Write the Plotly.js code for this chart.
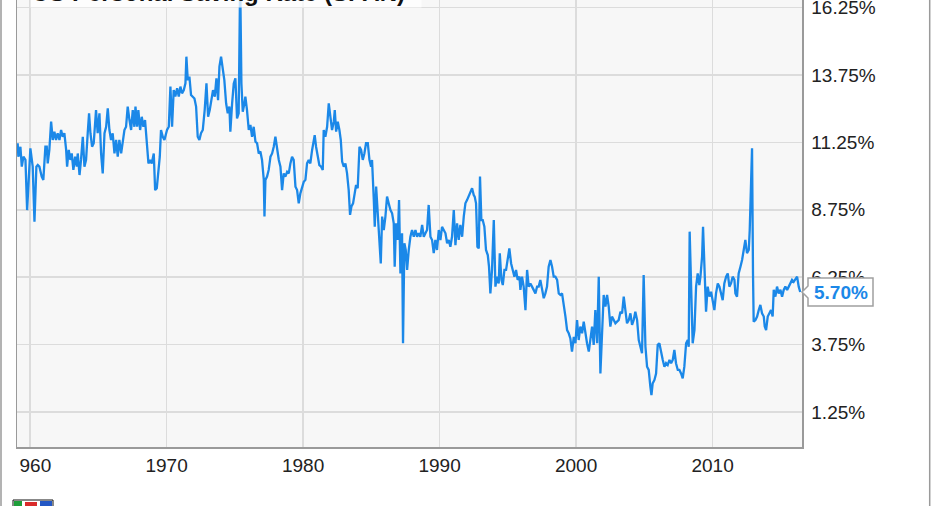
<!DOCTYPE html>
<html><head><meta charset="utf-8">
<script src="https://cdn.plot.ly/plotly-3.0.1.min.js"></script>
<style>html,body{margin:0;padding:0;background:#fff;overflow:hidden}#chart{width:931px;height:506px}</style>
</head><body><div id="chart"></div>
<script>
const chartTitle = 'US Personal Saving Rate (SPAN)';
const decadeTicks = [1960, 1970, 1980, 1990, 2000, 2010];
const decadeLabels = ['960', '1970', '1980', '1990', '2000', '2010'];
const rateTicks = [1.25, 3.75, 6.25, 8.75, 11.25, 13.75, 16.25];

// [year, personal saving rate %]
const s1960s = [[1959.09,11.22],[1959.14,10.72],[1959.29,11.09],[1959.39,10.35],[1959.51,10.72],[1959.66,10.60],[1959.78,8.74],[1959.88,9.98],[1960.02,11.03],[1960.19,10.35],[1960.32,8.31],[1960.46,10.35],[1960.56,10.41],[1960.68,10.35],[1960.85,9.98],[1960.97,9.86],[1961.12,11.09],[1961.22,11.09],[1961.29,10.47],[1961.41,10.97],[1961.54,12.02],[1961.66,11.34],[1961.78,11.65],[1961.90,11.34],[1962.02,11.59],[1962.15,11.34],[1962.27,11.71],[1962.39,11.46],[1962.51,11.59],[1962.64,10.97],[1962.71,10.35],[1962.83,10.97],[1962.95,10.60],[1963.05,10.84],[1963.17,10.23],[1963.30,10.72],[1963.42,10.35],[1963.49,10.84],[1963.62,10.04],[1963.73,10.60],[1963.86,11.46],[1963.98,10.35],[1964.10,10.60],[1964.22,11.59],[1964.32,12.33],[1964.42,11.59],[1964.54,11.09],[1964.66,11.22],[1964.83,12.45],[1964.95,11.59],[1965.08,12.33],[1965.20,10.84],[1965.32,10.10],[1965.45,11.59],[1965.57,11.83],[1965.69,12.51],[1965.81,11.71],[1965.93,11.34],[1966.05,11.59],[1966.18,10.84],[1966.30,11.34],[1966.42,10.72],[1966.54,11.34],[1966.67,10.84],[1966.79,11.22],[1966.91,11.71],[1967.03,11.83],[1967.15,12.58],[1967.28,12.08],[1967.40,11.71],[1967.52,12.45],[1967.64,11.83],[1967.72,12.58],[1967.84,11.83],[1967.93,12.45],[1968.06,11.71],[1968.18,12.20],[1968.30,11.83],[1968.42,12.08],[1968.55,11.22],[1968.67,10.47],[1968.79,10.60],[1968.91,10.47],[1969.06,10.84],[1969.16,9.48],[1969.28,9.55],[1969.40,10.10],[1969.50,10.72],[1969.59,11.71],[1969.72,11.46],[1969.84,11.34],[1969.96,11.59]];
const s1970s = [[1970.03,11.71],[1970.16,11.83],[1970.28,13.32],[1970.40,11.83],[1970.52,13.19],[1970.64,12.95],[1970.77,13.26],[1970.89,12.95],[1971.01,13.32],[1971.13,13.07],[1971.26,13.19],[1971.38,13.44],[1971.45,14.43],[1971.55,13.56],[1971.67,13.69],[1971.79,13.01],[1971.92,12.95],[1972.04,12.88],[1972.16,12.58],[1972.28,11.46],[1972.40,11.34],[1972.52,11.59],[1972.65,11.71],[1972.79,12.45],[1972.92,13.44],[1973.04,12.20],[1973.16,12.45],[1973.28,12.82],[1973.40,13.19],[1973.53,12.95],[1973.65,13.63],[1973.77,12.82],[1973.87,14.06],[1973.99,14.43],[1974.11,14.06],[1974.23,13.56],[1974.36,12.70],[1974.48,12.33],[1974.60,12.58],[1974.67,11.65],[1974.80,12.70],[1974.92,13.44],[1975.04,13.63],[1975.16,12.14],[1975.28,12.33],[1975.39,17.30],[1975.48,13.44],[1975.58,12.39],[1975.70,12.70],[1975.77,12.95],[1975.89,12.45],[1976.02,11.71],[1976.14,11.90],[1976.26,11.46],[1976.38,11.83],[1976.51,11.28],[1976.63,11.22],[1976.75,10.84],[1976.87,10.91],[1976.99,10.60],[1977.12,9.86],[1977.17,8.50],[1977.24,9.86],[1977.36,9.98],[1977.48,10.23],[1977.61,10.72],[1977.73,10.84],[1977.85,11.09],[1977.97,11.46],[1978.09,10.97],[1978.22,10.60],[1978.34,10.35],[1978.46,9.48],[1978.58,10.10],[1978.70,9.98],[1978.83,10.16],[1978.95,10.10],[1979.07,10.47],[1979.19,10.72],[1979.31,10.60],[1979.44,9.61],[1979.56,9.48],[1979.68,8.99],[1979.80,9.36],[1979.92,9.61]];
const s1980s = [[1980.05,9.79],[1980.17,9.86],[1980.29,10.47],[1980.41,10.60],[1980.53,10.47],[1980.66,10.97],[1980.78,11.46],[1980.85,11.52],[1980.95,11.09],[1981.07,10.72],[1981.19,10.41],[1981.32,10.35],[1981.44,10.23],[1981.51,11.71],[1981.63,11.46],[1981.76,11.83],[1981.88,12.70],[1982.00,12.20],[1982.12,11.71],[1982.25,12.02],[1982.32,12.45],[1982.42,11.65],[1982.54,12.02],[1982.66,11.71],[1982.76,11.34],[1982.86,10.54],[1982.98,10.35],[1983.10,10.47],[1983.22,10.10],[1983.34,9.48],[1983.44,8.56],[1983.54,8.87],[1983.66,8.99],[1983.78,9.36],[1983.88,9.67],[1984.00,9.55],[1984.13,11.09],[1984.25,10.97],[1984.37,10.60],[1984.49,10.84],[1984.61,11.22],[1984.74,11.22],[1984.86,10.60],[1984.98,10.35],[1985.05,10.60],[1985.18,9.11],[1985.25,8.12],[1985.35,9.61],[1985.47,8.74],[1985.59,7.88],[1985.69,6.76],[1985.79,8.50],[1985.91,8.00],[1986.03,8.50],[1986.15,9.24],[1986.27,8.99],[1986.40,8.74],[1986.52,8.62],[1986.64,8.25],[1986.71,6.64],[1986.81,8.25],[1986.93,7.63],[1987.03,9.11],[1987.13,6.39],[1987.25,7.88],[1987.32,3.80],[1987.42,7.51],[1987.52,7.26],[1987.62,6.52],[1987.74,7.26],[1987.86,7.75],[1987.98,8.00],[1988.11,7.75],[1988.23,8.00],[1988.35,7.75],[1988.47,7.88],[1988.59,7.75],[1988.72,8.19],[1988.84,7.75],[1988.96,7.88],[1989.08,8.00],[1989.20,8.93],[1989.33,7.75],[1989.45,7.63],[1989.57,7.14],[1989.69,7.63],[1989.81,7.26],[1989.94,8.00]];
const s1990s = [[1990.06,7.63],[1990.18,8.12],[1990.30,8.00],[1990.43,7.88],[1990.55,7.51],[1990.67,7.63],[1990.79,7.38],[1990.91,7.75],[1991.04,8.74],[1991.16,7.44],[1991.28,8.25],[1991.40,7.63],[1991.52,8.19],[1991.65,7.75],[1991.77,8.50],[1991.89,8.99],[1992.01,9.11],[1992.13,9.24],[1992.26,9.42],[1992.38,9.55],[1992.50,9.30],[1992.57,9.24],[1992.67,8.99],[1992.77,7.38],[1992.87,7.32],[1992.96,9.98],[1993.06,8.37],[1993.16,8.37],[1993.28,8.12],[1993.40,7.26],[1993.53,7.07],[1993.62,6.64],[1993.72,5.65],[1993.84,6.52],[1993.97,8.37],[1994.09,5.90],[1994.21,6.27],[1994.33,6.02],[1994.41,7.14],[1994.53,6.15],[1994.63,5.96],[1994.75,6.52],[1994.87,6.52],[1994.99,6.89],[1995.11,7.32],[1995.24,6.76],[1995.36,6.52],[1995.48,6.27],[1995.60,6.52],[1995.72,6.15],[1995.85,6.27],[1995.92,5.78],[1996.04,6.27],[1996.16,5.90],[1996.29,5.03],[1996.41,6.52],[1996.53,5.90],[1996.65,6.02],[1996.77,5.90],[1996.90,5.78],[1997.02,5.65],[1997.14,5.90],[1997.26,5.90],[1997.38,6.15],[1997.51,5.78],[1997.63,5.47],[1997.75,5.65],[1997.87,5.90],[1997.99,6.64],[1998.12,6.89],[1998.24,6.64],[1998.36,6.27],[1998.48,6.27],[1998.61,6.15],[1998.73,5.65],[1998.85,5.59],[1998.97,5.65],[1999.09,5.28],[1999.22,4.79],[1999.34,4.29],[1999.46,4.17],[1999.58,3.98],[1999.70,3.49],[1999.83,4.04],[1999.95,3.80]];
const s2000s = [[2000.07,4.66],[2000.19,3.92],[2000.31,4.42],[2000.44,4.17],[2000.56,4.60],[2000.68,4.17],[2000.80,3.80],[2000.93,3.49],[2001.05,4.04],[2001.17,4.42],[2001.29,3.74],[2001.41,5.03],[2001.54,3.80],[2001.66,6.27],[2001.78,2.68],[2001.90,4.42],[2002.02,5.59],[2002.15,5.16],[2002.27,5.59],[2002.39,5.16],[2002.51,4.42],[2002.63,4.79],[2002.76,4.66],[2002.88,4.54],[2003.00,4.60],[2003.12,4.66],[2003.25,4.97],[2003.37,4.91],[2003.49,5.53],[2003.61,4.91],[2003.73,4.54],[2003.86,4.66],[2003.98,4.91],[2004.10,4.48],[2004.22,4.66],[2004.34,4.97],[2004.47,4.66],[2004.59,3.92],[2004.71,3.67],[2004.83,3.43],[2004.95,6.33],[2005.08,3.67],[2005.20,2.93],[2005.32,2.81],[2005.44,2.19],[2005.52,1.88],[2005.61,2.31],[2005.74,2.44],[2005.86,2.68],[2005.98,3.74],[2006.10,3.80],[2006.22,3.43],[2006.35,3.18],[2006.47,2.93],[2006.59,3.06],[2006.71,2.99],[2006.84,3.18],[2006.96,3.06],[2007.08,3.18],[2007.20,3.55],[2007.32,3.06],[2007.45,2.81],[2007.57,2.81],[2007.69,2.68],[2007.81,2.50],[2007.93,2.93],[2008.06,3.80],[2008.18,3.92],[2008.25,3.67],[2008.32,7.94],[2008.45,5.16],[2008.54,3.80],[2008.67,4.29],[2008.79,5.90],[2008.91,6.39],[2009.03,5.96],[2009.11,6.27],[2009.23,7.01],[2009.30,8.12],[2009.40,6.39],[2009.52,4.97],[2009.64,5.90],[2009.77,5.53],[2009.89,5.71]];
const s2010s = [[2010.01,5.40],[2010.13,5.03],[2010.25,5.65],[2010.38,6.02],[2010.50,5.90],[2010.62,5.65],[2010.74,5.40],[2010.86,6.02],[2010.99,6.27],[2011.11,6.39],[2011.23,5.90],[2011.35,6.02],[2011.47,6.27],[2011.60,6.15],[2011.67,5.65],[2011.79,5.53],[2011.91,6.39],[2012.04,6.64],[2012.16,6.89],[2012.28,7.26],[2012.40,7.63],[2012.52,7.14],[2012.65,7.26],[2012.72,8.00],[2012.82,9.48],[2012.89,11.03],[2012.96,6.39],[2013.01,4.60],[2013.14,4.66],[2013.26,4.79],[2013.38,5.03],[2013.50,5.22],[2013.62,4.91],[2013.75,4.79],[2013.82,4.42],[2013.92,4.29],[2014.04,4.79],[2014.16,4.91],[2014.28,5.03],[2014.40,4.79],[2014.48,5.78],[2014.60,5.53],[2014.72,5.90],[2014.84,5.65],[2014.97,5.78],[2015.09,5.53],[2015.21,5.78],[2015.33,5.90],[2015.46,5.78],[2015.58,5.90],[2015.70,6.02],[2015.82,6.15],[2015.94,6.08],[2016.07,6.21],[2016.19,6.27],[2016.31,5.90],[2016.42,5.70]];

const series = [].concat(s1960s, s1970s, s1980s, s1990s, s2000s, s2010s);
const years = series.map(p => p[0]);
const rates = series.map(p => p[1]);
const lastRate = rates[rates.length - 1];

const BLUE = '#1b88e8';
const FONT = 'Liberation Sans, Arial, Helvetica, sans-serif';
const W = 931, H = 506, ML = 17, MR = 129, MT = 0, MB = 59;
const PW = W - ML - MR, PH = H - MT - MB;
const xRange = [1959.04, 2016.55];
const pxPerYear = PW / (xRange[1] - xRange[0]);
// the first decade label is shown with its leading digit cut off; shift its centre accordingly
const labelVals = decadeTicks.map((t, i) => i === 0 ? t + 5.3 / pxPerYear : t);
const px = v => (v - ML) / PW;          // page x pixel -> paper x
const py = v => (H - MB - v) / PH;      // page y pixel -> paper y

const trace = {
  x: years, y: rates, type: 'scatter', mode: 'lines',
  line: {color: BLUE, width: 2.3}, hoverinfo: 'skip'
};

const layout = {
  width: W, height: H,
  margin: {l: ML, r: MR, t: MT, b: MB, pad: 0},
  paper_bgcolor: '#ffffff', plot_bgcolor: '#f7f7f7',
  showlegend: false,
  font: {family: FONT, size: 19, color: '#222'},
  xaxis: {
    range: xRange, type: 'linear',
    tickmode: 'array', tickvals: labelVals, ticktext: decadeLabels,
    showgrid: false, zeroline: false, ticks: '',
    minor: {tickmode: 'array', tickvals: decadeTicks, showgrid: true, gridcolor: '#dcdcdc', gridwidth: 1.5, ticks: ''},
    showline: true, linecolor: '#9a9a9a', linewidth: 1.5, mirror: true,
    tickfont: {family: FONT, size: 19, color: '#222'},
    ticklabelstandoff: 1, ticklabeloverflow: 'allow'
  },
  yaxis: {
    range: [-0.048, 16.532], side: 'right',
    tickmode: 'array', tickvals: rateTicks, ticktext: rateTicks.map(v => v.toFixed(2) + '%'),
    showgrid: true, gridcolor: '#dcdcdc', gridwidth: 1.5, zeroline: false, ticks: '',
    showline: true, linecolor: '#9a9a9a', linewidth: 1.5, mirror: true,
    tickfont: {family: FONT, size: 19, color: '#222'},
    ticklabelstandoff: 4, ticklabeloverflow: 'allow'
  },
  shapes: [
    {type: 'path', xref: 'paper', yref: 'y', xsizemode: 'pixel', ysizemode: 'pixel', xanchor: 1, yanchor: lastRate,
     path: 'M0,0 L6,6 L6,14 L71,14 L71,-14 L6,-14 L6,-6 Z',
     fillcolor: '#ffffff', line: {color: '#a0a0a0', width: 1.5}, layer: 'above'},
    {type: 'line', xref: 'paper', yref: 'paper', x0: px(929.7), x1: px(929.7), y0: py(H), y1: 1,
     line: {color: '#9a9a9a', width: 1.5}},
    {type: 'line', xref: 'paper', yref: 'paper', x0: px(1), x1: px(1), y0: py(H), y1: 1,
     line: {color: '#9a9a9a', width: 1.5}},
    // small source logo at the bottom-left corner (cut off by the frame)
    {type: 'rect', xref: 'paper', yref: 'paper', x0: px(13), x1: px(53), y0: py(H + 2), y1: py(500),
     fillcolor: '#ffffff', line: {color: '#111', width: 1}},
    {type: 'rect', xref: 'paper', yref: 'paper', x0: px(14), x1: px(22), y0: py(H + 2), y1: py(501),
     fillcolor: '#1e9e3a', line: {width: 0}},
    {type: 'rect', xref: 'paper', yref: 'paper', x0: px(25), x1: px(37), y0: py(H + 2), y1: py(502),
     fillcolor: '#d92b2b', line: {width: 0}},
    {type: 'rect', xref: 'paper', yref: 'paper', x0: px(40), x1: px(52), y0: py(H + 2), y1: py(501),
     fillcolor: '#2357c4', line: {width: 0}}
  ],
  annotations: [
    {xref: 'paper', yref: 'paper', x: px(30), y: 1, xanchor: 'left', yanchor: 'bottom',
     yshift: -8, text: '<b>' + chartTitle + '</b>', showarrow: false, align: 'left', width: 388,
     bgcolor: 'rgba(255,255,255,0.75)', borderpad: 1,
     font: {family: FONT, size: 24, color: '#111'}},
    {xref: 'paper', yref: 'y', x: 1, y: lastRate, xanchor: 'center', yanchor: 'middle', xshift: 38.5,
     text: '<b>' + lastRate.toFixed(2) + '%</b>', showarrow: false,
     font: {family: FONT, size: 19, color: BLUE}}
  ]
};

Plotly.newPlot('chart', [trace], layout, {displayModeBar: false, staticPlot: true});
</script>
</body></html>
